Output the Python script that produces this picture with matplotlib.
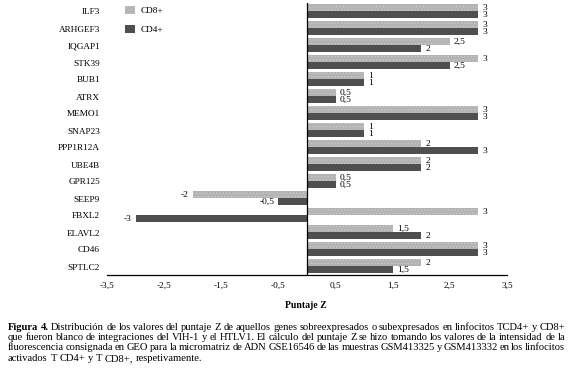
import numpy as np
import matplotlib
matplotlib.use('Agg')
import matplotlib.pyplot as plt

plt.rcParams['font.family'] = ['Liberation Serif', 'DejaVu Serif']
plt.rcParams['hatch.linewidth'] = 0.6

genes = ['ILF3', 'ARHGEF3', 'IQGAP1', 'STK39', 'BUB1', 'ATRX', 'MEMO1', 'SNAP23',
         'PPP1R12A', 'UBE4B', 'GPR125', 'SEEP9', 'FBXL2', 'ELAVL2', 'CD46', 'SPTLC2']
cd8 = [3, 3, 2.5, 3, 1, 0.5, 3, 1, 2, 2, 0.5, -2, 3, 1.5, 3, 2]
cd4 = [3, 3, 2, 2.5, 1, 0.5, 3, 1, 3, 2, 0.5, -0.5, -3, 2, 3, 1.5]
xticks = [-3.5, -2.5, -1.5, -0.5, 0.5, 1.5, 2.5, 3.5]

caption = [
    "Distribución de los valores del puntaje Z de aquellos genes sobreexpresados o subexpresados en linfocitos TCD4+ y CD8+",
    "que fueron blanco de integraciones del VIH-1 y el HTLV1. El cálculo del puntaje Z se hizo tomando los valores de la intensidad de la",
    "fluorescencia consignada en GEO para la micromatriz de ADN GSE16546 de las muestras GSM413325 y GSM413332 en los linfocitos",
    "activados T CD4+ y T CD8+, respetivamente.",
]

def fmt(v):
    return ('%g' % v).replace('.', ',')

fig = plt.figure(figsize=(5.73, 3.72), dpi=100)
ax = fig.add_axes([107/573, 1-275/372, 400/573, 272/372])

n = len(genes)
y = np.arange(n)[::-1]
h = 0.4
light = '#b3b3b3'
dark = '#4f4f4f'
ax.barh(y + h/2 + 0.02, cd8, height=h, color=light, hatch='.....', edgecolor='#c9c9c9', linewidth=0, label='CD8+')
ax.barh(y - h/2 + 0.02, cd4, height=h, color=dark, linewidth=0, label='CD4+')

for yi, a, b in zip(y, cd8, cd4):
    for v, yy in ((a, yi + h/2 + 0.02), (b, yi - h/2 + 0.02)):
        off = 0.07 if v >= 0 else -0.07
        ax.text(v + off, yy, fmt(v), ha='left' if v >= 0 else 'right', va='center', fontsize=6.8)

ax.set_xlim(-3.5, 3.5)
ax.set_ylim(-0.5, n - 0.5)
ax.set_yticks(y)
ax.set_yticklabels(genes, fontsize=6.7)
ax.set_xticks(xticks)
ax.set_xticklabels([fmt(t) for t in xticks], fontsize=6.7)
ax.tick_params(axis='y', length=0, pad=5)
ax.tick_params(axis='x', length=0, pad=5)
for s in ['left', 'right', 'top']:
    ax.spines[s].set_visible(False)
ax.spines['bottom'].set_linewidth(0.9)
ax.axvline(0, color='black', lw=0.9)

ax.legend(loc='upper left', bbox_to_anchor=(0.025, 1.02), frameon=False, fontsize=6.7,
          handlelength=1.0, handleheight=1.0, labelspacing=1.0, handletextpad=0.6)

fig.text(306/573, 1-305/372, 'Puntaje Z', ha='center', va='center', fontsize=7, fontweight='bold')

# justified caption
renderer = fig.canvas.get_renderer()
x0, x1 = 8/573, 565/573
ys = [327, 337.5, 348, 358.5]
fs = 7.55
for i, line in enumerate(caption):
    words = line.split(' ')
    items = []
    if i == 0:
        items.append(('Figura', 'bold'))
        items.append(('4.', 'bold'))
    items += [(w, 'normal') for w in words]
    yy = 1 - ys[i]/372
    texts = [fig.text(0, yy, w, fontsize=fs, fontweight=wt, va='center', ha='left') for w, wt in items]
    widths = [t.get_window_extent(renderer).width / fig.bbox.width for t in texts]
    if i < len(caption) - 1:
        gap = (x1 - x0 - sum(widths)) / (len(texts) - 1)
    else:
        sp = fig.text(0, 0, 'a b', fontsize=fs)
        sp2 = fig.text(0, 0, 'ab', fontsize=fs)
        gap = (sp.get_window_extent(renderer).width - sp2.get_window_extent(renderer).width) / fig.bbox.width
        sp.remove(); sp2.remove()
    x = x0
    for t, w in zip(texts, widths):
        t.set_x(x)
        x += w + gap

fig.savefig('out.png', dpi=100)
